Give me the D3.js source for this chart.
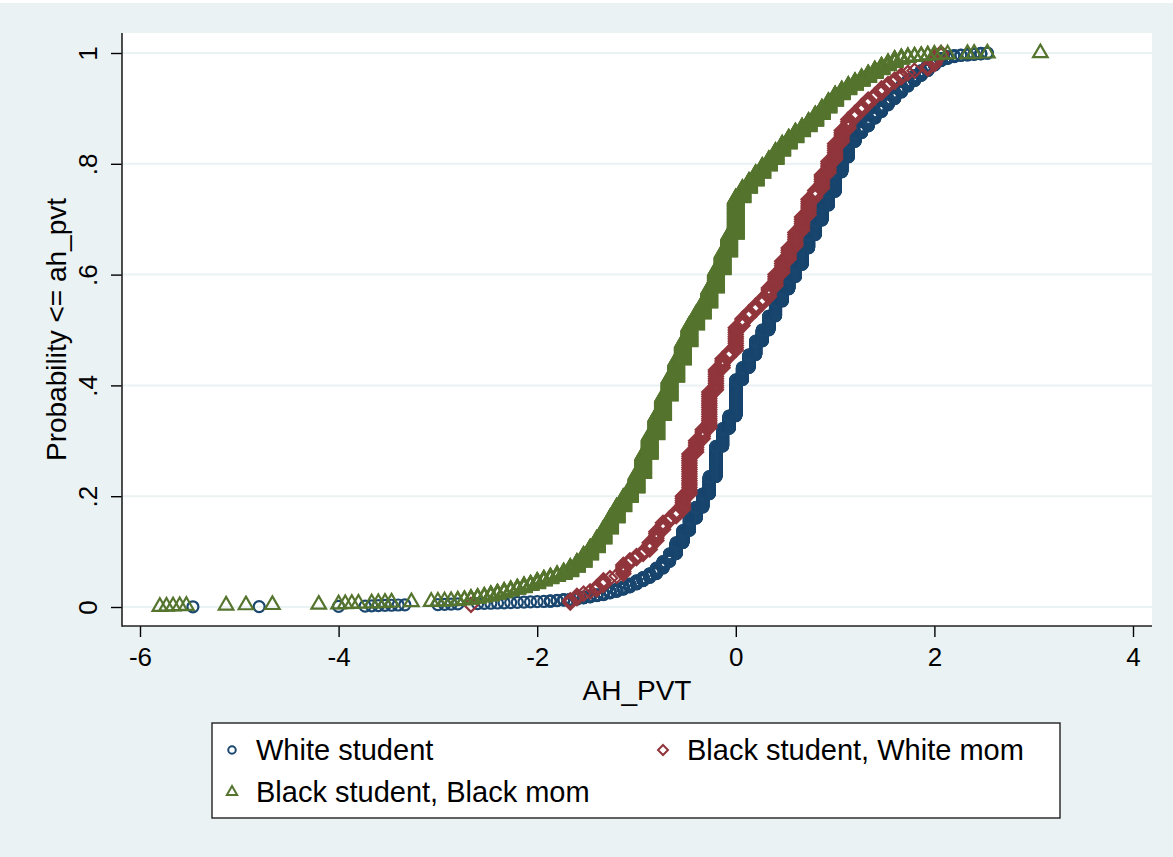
<!DOCTYPE html>
<html>
<head>
<meta charset="utf-8">
<script src="https://cdn.jsdelivr.net/npm/d3@7"></script>
<style>
  body { margin: 0; background: #fff; }
  text { font-family: "Liberation Sans", Arial, Helvetica, sans-serif; fill: #000; }
</style>
</head>
<body>
<script>
// distinct AH_PVT values (1/15 SD steps) in the body of the distribution
const pvtGrid = [
  -2.8, -2.733, -2.667, -2.6, -2.533, -2.467, -2.4, -2.333, -2.267, -2.2,
  -2.133, -2.067, -2.0, -1.933, -1.867, -1.8, -1.733, -1.667, -1.6, -1.533,
  -1.467, -1.4, -1.333, -1.267, -1.2, -1.133, -1.067, -1.0, -0.933, -0.867,
  -0.8, -0.733, -0.667, -0.6, -0.533, -0.467, -0.4, -0.333, -0.267, -0.2,
  -0.133, -0.067, 0, 0.067, 0.133, 0.2, 0.267, 0.333, 0.4, 0.467,
  0.533, 0.6, 0.667, 0.733, 0.8, 0.867, 0.933, 1.0, 1.067, 1.133,
  1.2, 1.267, 1.333, 1.4, 1.467, 1.533, 1.6, 1.667, 1.733, 1.8,
  1.867, 1.933, 2.0, 2.067, 2.133, 2.2, 2.267, 2.333, 2.4, 2.467,
  2.533
];

// cumulative share <= each grid value (null = no observations there)
const whiteCum = [
  0.0056, 0.0056, 0.0056, 0.0060, 0.0064, 0.0068, 0.0072, 0.0076, 0.0080, 0.0084,
  0.0088, 0.0092, 0.0096, 0.010, 0.011, 0.012, 0.013, 0.014, 0.016, 0.018,
  0.020, 0.022, 0.025, 0.028, 0.032, 0.036, 0.041, 0.047, 0.053, 0.060,
  0.070, 0.082, 0.096, 0.116, 0.138, 0.160, 0.180, 0.204, 0.235, 0.290,
  0.322, 0.345, 0.410, 0.432, 0.455, 0.480, 0.500, 0.525, 0.552, 0.574,
  0.596, 0.618, 0.648, 0.672, 0.698, 0.725, 0.750, 0.785, 0.812, 0.840,
  0.856, 0.868, 0.882, 0.894, 0.906, 0.917, 0.929, 0.940, 0.950, 0.959,
  0.968, 0.978, 0.986, 0.990, 0.993, 0.995, 0.996, 0.997, 0.998, 0.999,
  1.0
];
const redCum = [
  null, null, null, null, null, null, null, null, null, null,
  null, null, null, null, null, null, null, 0.012, 0.020, 0.024,
  0.028, 0.036, 0.046, 0.050, 0.056, 0.076, 0.082, 0.090, 0.100, 0.116,
  0.136, 0.152, 0.160, 0.172, 0.200, 0.276, 0.300, 0.320, 0.388, 0.428,
  0.448, 0.460, 0.504, 0.520, 0.532, 0.544, 0.556, 0.576, 0.600, 0.624,
  0.648, 0.676, 0.704, 0.736, 0.752, 0.780, 0.804, 0.836, 0.860, 0.880,
  0.892, 0.904, 0.916, 0.924, 0.936, 0.944, 0.952, 0.960, 0.964, 0.968,
  null, 0.976, 0.992, 1.0, null, null, null, null, null, null,
  null
];
const greenCum = [
  0.012, 0.013, 0.015, 0.017, 0.019, 0.022, 0.025, 0.028, 0.031, 0.034,
  0.038, 0.041, 0.046, 0.050, 0.054, 0.058, 0.063, 0.071, 0.080, 0.093,
  0.106, 0.122, 0.140, 0.160, 0.180, 0.197, 0.214, 0.240, 0.275, 0.310,
  0.345, 0.380, 0.414, 0.445, 0.478, 0.508, 0.528, 0.548, 0.575, 0.608,
  0.640, 0.672, 0.738, 0.755, 0.768, 0.782, 0.795, 0.807, 0.822, 0.835,
  0.846, 0.857, 0.866, 0.876, 0.888, 0.900, 0.912, 0.924, 0.933, 0.941,
  0.948, 0.955, 0.962, 0.969, 0.976, 0.982, 0.988, 0.991, 0.993, 0.994,
  0.995, 0.996, 0.997, null, null, null, null, null, null, null,
  null
];

// single observations out in the tails
const whiteLow = [-5.467, -4.8, -4.0, -3.733, -3.667, -3.6, -3.533, -3.467, -3.4, -3.333, -3.0, -2.933, -2.867];
const redLow = [-2.667];
const greenLow = [-5.8, -5.733, -5.667, -5.6, -5.533, -5.133, -4.933, -4.667, -4.2, -4.0, -3.933,
  -3.867, -3.8, -3.667, -3.6, -3.533, -3.467, -3.267, -3.067, -3.0, -2.933, -2.867];
const greenHigh = [2.067, 2.133, 2.333, 2.4, 2.533, 3.067];

const whiteN = 2500;
const redN = 250;
const greenN = 2000;

const xTicks = [-6, -4, -2, 0, 2, 4];
const yTicks = [0, 0.2, 0.4, 0.6, 0.8, 1];
const yTickLabels = ["0", ".2", ".4", ".6", ".8", "1"];

// stata cumul: one point per observation at rank / n
function cumul(low, cum, high, n) {
  const pts = [];
  let rank = 0;
  low.forEach((v) => { rank++; pts.push([v, rank / n]); });
  cum.forEach((c, i) => {
    if (c === null) return;
    const top = Math.round(c * n);
    while (rank < top) { rank++; pts.push([pvtGrid[i], rank / n]); }
  });
  high.forEach((v) => { rank++; pts.push([v, rank / n]); });
  return pts;
}

const hollowDiamond = {
  draw(ctx, size) {
    const r = Math.sqrt(size / 2);
    ctx.moveTo(0, -r); ctx.lineTo(r, 0); ctx.lineTo(0, r); ctx.lineTo(-r, 0); ctx.closePath();
  }
};

const series = [
  { label: "White student", color: "#1a476f", type: d3.symbolCircle, size: 95, lsize: 44,
    pts: cumul(whiteLow, whiteCum, [], whiteN), lx: 232, ly: 750 },
  { label: "Black student, White mom", color: "#90353b", type: hollowDiamond, size: 100, lsize: 50,
    pts: cumul(redLow, redCum, [], redN), lx: 663, ly: 750 },
  { label: "Black student, Black mom", color: "#55752f", type: d3.symbolTriangle, size: 92, lsize: 46,
    pts: cumul(greenLow, greenCum, greenHigh, greenN), lx: 232, ly: 792 },
];

const W = 1173, H = 857;
const plot = { left: 122, right: 1152, top: 33, bottom: 626 };

const svg = d3.select("body").append("svg").attr("width", W).attr("height", H);

svg.append("rect").attr("x", 0).attr("y", 3).attr("width", W).attr("height", H - 3).attr("fill", "#eaf2f3");
svg.append("rect")
  .attr("x", plot.left).attr("y", plot.top)
  .attr("width", plot.right - plot.left).attr("height", plot.bottom - plot.top)
  .attr("fill", "#fff");

const x = d3.scaleLinear().domain([-6, 4]).range([140, 1133]);
const y = d3.scaleLinear().domain([0, 1]).range([607, 53]);

// grid
svg.append("g").selectAll("line").data(yTicks).enter().append("line")
  .attr("x1", plot.left).attr("x2", plot.right)
  .attr("y1", (d) => y(d)).attr("y2", (d) => y(d))
  .attr("stroke", "#eaf2f3").attr("stroke-width", 2);

// markers
series.forEach((s) => {
  const p = d3.symbol().type(s.type).size(s.size)();
  svg.append("g").selectAll("path").data(s.pts).enter().append("path")
    .attr("d", p)
    .attr("transform", (d) => `translate(${x(d[0])},${y(d[1])})`)
    .attr("fill", "none")
    .attr("stroke", s.color)
    .attr("stroke-width", 2.2);
});

// axes
const yAxis = svg.append("g").attr("transform", `translate(${plot.left},0)`)
  .call(d3.axisLeft(y).tickValues(yTicks).tickSize(11).tickSizeOuter(0)
    .tickFormat((d, i) => yTickLabels[i]));
yAxis.select(".domain").remove();
yAxis.selectAll(".tick line").attr("stroke", "#000").attr("stroke-width", 1.4);
yAxis.selectAll(".tick text")
  .attr("transform", "rotate(-90)")
  .attr("x", 0).attr("y", -25).attr("dy", 0)
  .attr("text-anchor", "middle")
  .style("font-size", "26px");

const xAxis = svg.append("g").attr("transform", `translate(0,${plot.bottom})`)
  .call(d3.axisBottom(x).tickValues(xTicks).tickSize(11).tickSizeOuter(0)
    .tickFormat((d) => String(d)));
xAxis.select(".domain").remove();
xAxis.selectAll(".tick line").attr("stroke", "#000").attr("stroke-width", 1.4);
xAxis.selectAll(".tick text").attr("y", 40).attr("dy", 0).style("font-size", "26px");

svg.append("line").attr("x1", plot.left).attr("x2", plot.left)
  .attr("y1", plot.top).attr("y2", plot.bottom + 0.7)
  .attr("stroke", "#222").attr("stroke-width", 1.6);
svg.append("line").attr("x1", plot.left).attr("x2", plot.right)
  .attr("y1", plot.bottom).attr("y2", plot.bottom)
  .attr("stroke", "#222").attr("stroke-width", 1.6);

// titles
svg.append("text").attr("x", (plot.left + plot.right) / 2).attr("y", 700)
  .attr("text-anchor", "middle").style("font-size", "28px").text("AH_PVT");
svg.append("text").attr("transform", `translate(66,${(plot.top + plot.bottom) / 2}) rotate(-90)`)
  .attr("text-anchor", "middle").style("font-size", "28px").text("Probability <= ah_pvt");

// legend
svg.append("rect").attr("x", 212).attr("y", 723).attr("width", 848).attr("height", 95)
  .attr("fill", "#fff").attr("stroke", "#222").attr("stroke-width", 1.4);
series.forEach((s) => {
  svg.append("path")
    .attr("d", d3.symbol().type(s.type).size(s.lsize)())
    .attr("transform", `translate(${s.lx},${s.ly})`)
    .attr("fill", "none").attr("stroke", s.color).attr("stroke-width", 2);
  svg.append("text").attr("x", s.lx + 24).attr("y", s.ly + 10)
    .style("font-size", "29px").text(s.label);
});
</script>
</body>
</html>
